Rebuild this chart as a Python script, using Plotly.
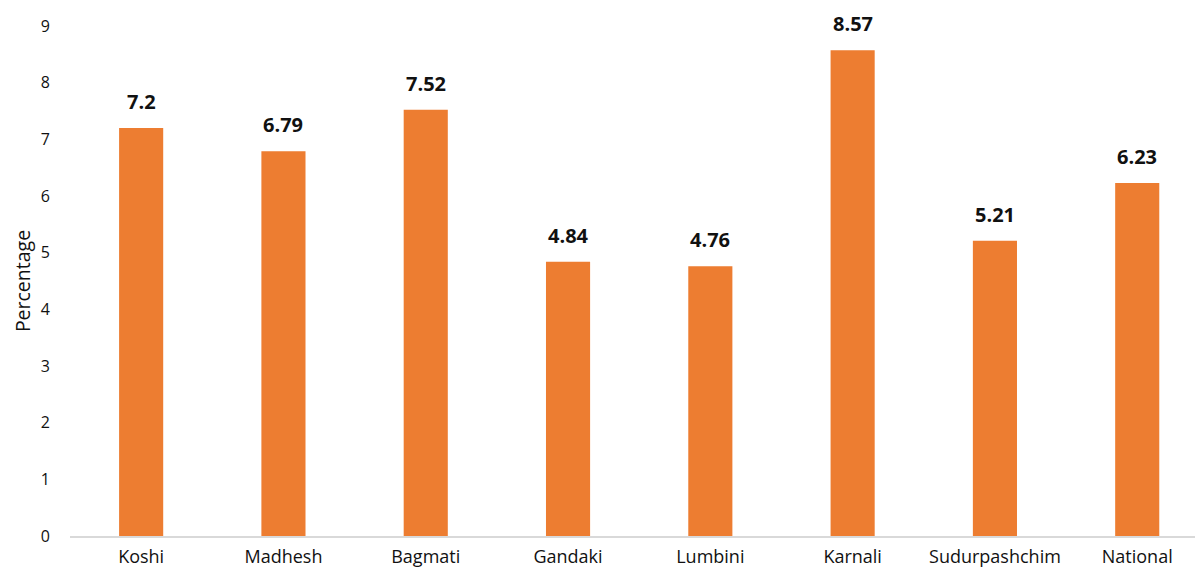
import plotly.graph_objects as go

categories = ["Koshi", "Madhesh", "Bagmati", "Gandaki", "Lumbini", "Karnali", "Sudurpashchim", "National"]
values = [7.2, 6.79, 7.52, 4.84, 4.76, 8.57, 5.21, 6.23]
labels = ["7.2", "6.79", "7.52", "4.84", "4.76", "8.57", "5.21", "6.23"]
y_ticks = [0, 1, 2, 3, 4, 5, 6, 7, 8, 9]

FONT = "'Open Sans', 'Noto Sans', sans-serif"

fig = go.Figure()
fig.add_trace(go.Bar(
    x=categories, y=values,
    marker=dict(color="#ED7D31", line=dict(width=0)),
    hoverinfo="x+y",
))

for c, v, t in zip(categories, values, labels):
    fig.add_annotation(x=c, y=v, text="<b>" + t + "</b>", showarrow=False,
                       yanchor="bottom", yshift=11,
                       font=dict(size=20, color="#111111", family=FONT))

fig.update_layout(
    width=1195, height=569,
    margin=dict(l=70, r=0, t=26, b=33),
    paper_bgcolor="white", plot_bgcolor="white",
    bargap=0.69,
    showlegend=False,
    font=dict(family=FONT, color="#111111"),
    xaxis=dict(
        range=[-0.5, 7.406], automargin=False,
        showgrid=False, showline=True, linecolor="#D9D9D9", linewidth=2,
        ticks="outside", ticklen=3, tickcolor="rgba(0,0,0,0)",
        tickfont=dict(size=18, family=FONT, color="#111111"),
        zeroline=False,
    ),
    yaxis=dict(
        range=[0, 9], tickvals=y_ticks, ticktext=[str(v) for v in y_ticks],
        automargin=False,
        showgrid=False, showline=False, zeroline=False,
        ticks="outside", ticklen=16, tickcolor="rgba(0,0,0,0)",
        tickfont=dict(size=16, family=FONT, color="#111111"),
        title=dict(text="Percentage", font=dict(size=19.5, family=FONT, color="#111111"), standoff=4),
    ),
)

fig.write_html("out.html")
